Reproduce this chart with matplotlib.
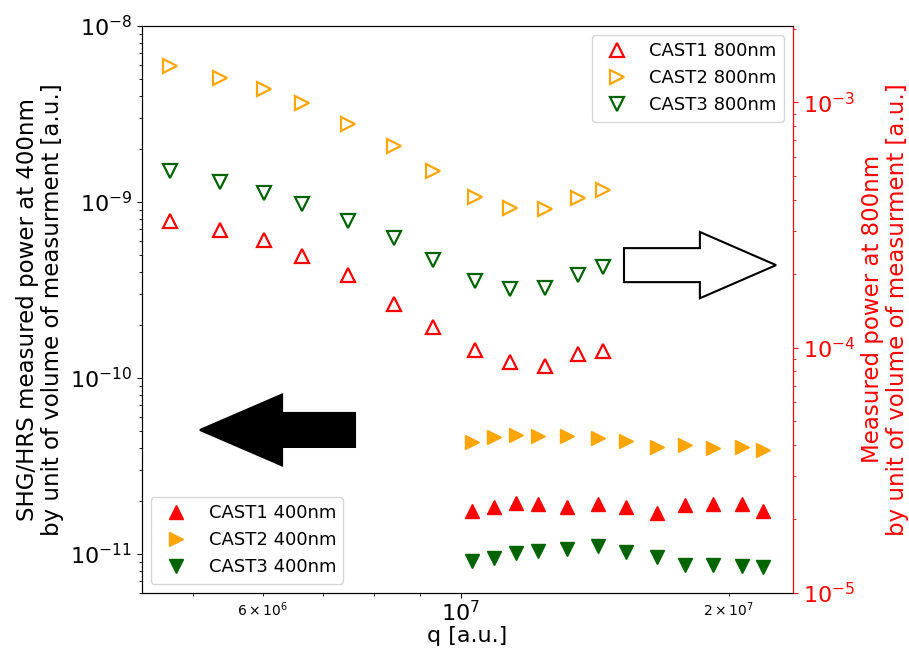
import matplotlib
matplotlib.use("Agg")
import matplotlib.pyplot as plt
from matplotlib.patches import FancyArrow

# scattering vector (arbitrary units)
q_800 = [4.72e6, 5.37e6, 6.01e6, 6.63e6, 7.48e6, 8.42e6, 9.32e6,
         1.038e7, 1.135e7, 1.242e7, 1.355e7, 1.444e7]
q_400 = [1.029e7, 1.090e7, 1.153e7, 1.220e7, 1.315e7, 1.424e7, 1.532e7,
         1.661e7, 1.785e7, 1.920e7, 2.066e7, 2.184e7]

# SHG/HRS power at 400 nm per unit volume
cast1_400 = [1.75e-11, 1.85e-11, 1.94e-11, 1.92e-11, 1.85e-11, 1.91e-11,
             1.84e-11, 1.71e-11, 1.88e-11, 1.92e-11, 1.92e-11, 1.74e-11]
cast2_400 = [4.31e-11, 4.60e-11, 4.70e-11, 4.68e-11, 4.68e-11, 4.54e-11,
             4.36e-11, 4.06e-11, 4.12e-11, 3.97e-11, 4.03e-11, 3.90e-11]
cast3_400 = [9.14e-12, 9.42e-12, 1.008e-11, 1.03e-11, 1.069e-11, 1.108e-11,
             1.021e-11, 9.51e-12, 8.65e-12, 8.59e-12, 8.52e-12, 8.41e-12]

# power at 800 nm per unit volume
cast1_800 = [3.27e-4, 3.03e-4, 2.74e-4, 2.37e-4, 1.97e-4, 1.505e-4,
             1.217e-4, 9.76e-5, 8.75e-5, 8.43e-5, 9.37e-5, 9.70e-5]
cast2_800 = [1.406e-3, 1.256e-3, 1.130e-3, 9.95e-4, 8.19e-4, 6.65e-4,
             5.26e-4, 4.12e-4, 3.70e-4, 3.67e-4, 4.09e-4, 4.39e-4]
cast3_800 = [5.26e-4, 4.75e-4, 4.28e-4, 3.86e-4, 3.28e-4, 2.80e-4,
             2.27e-4, 1.87e-4, 1.73e-4, 1.75e-4, 1.98e-4, 2.14e-4]

names = ["CAST1", "CAST2", "CAST3"]
colors = ["red", "orange", "darkgreen"]
markers = ["^", ">", "v"]

fig = plt.figure(figsize=(9.09, 6.53), dpi=100)
ax = fig.add_axes([0.1559, 0.0924, 0.7165, 0.8678])
ax2 = ax.twinx()

for name, c, m, y in zip(names, colors, markers, [cast1_400, cast2_400, cast3_400]):
    ax.plot(q_400, y, linestyle="none", marker=m, color=c, markersize=10,
            label=f"{name} 400nm")

for name, c, m, y in zip(names, colors, markers, [cast1_800, cast2_800, cast3_800]):
    ax2.plot(q_800, y, linestyle="none", marker=m, markerfacecolor="none",
             markeredgecolor=c, markeredgewidth=1.6, markersize=9.5,
             label=f"{name} 800nm")

ax.set_xscale("log")
ax.set_yscale("log")
ax2.set_yscale("log")
ax.set_xlim(4.385e6, 2.36e7)
ax.set_ylim(6e-12, 1e-8)
ax2.set_ylim(1e-5, 2.05e-3)

ax.tick_params(axis="both", which="major", labelsize=16)
ax.tick_params(axis="x", which="major", pad=2)
ax.tick_params(axis="x", which="minor", labelsize=10)
ax2.tick_params(axis="y", which="major", labelsize=16)
ax2.tick_params(axis="y", which="both", colors="red")
ax2.spines["right"].set_color("red")

ax.set_xlabel("q [a.u.]", fontsize=16, labelpad=0)
ax.set_ylabel("SHG/HRS measured power at 400nm\nby unit of volume of measurment [a.u.]",
              fontsize=16.5, linespacing=1.1)
ax2.set_ylabel("Measured power at 800nm\nby unit of volume of measurment [a.u.]",
               fontsize=16.5, color="red", linespacing=1.1)

ax.legend(loc="lower left", fontsize=13)
ax2.legend(loc="upper right", fontsize=13)

# direction arrows pointing at the axis each data set belongs to
ax2.add_patch(FancyArrow(0.3275, 0.2871, -0.238, 0, width=0.060, head_width=0.125,
                         head_length=0.126, length_includes_head=True,
                         transform=ax2.transAxes, facecolor="black",
                         edgecolor="black", linewidth=1.5))
ax2.add_patch(FancyArrow(0.7405, 0.578, 0.2335, 0, width=0.060, head_width=0.117,
                         head_length=0.117, length_includes_head=True,
                         transform=ax2.transAxes, facecolor="white",
                         edgecolor="black", linewidth=1.5))

fig.savefig("out.png", dpi=100)
